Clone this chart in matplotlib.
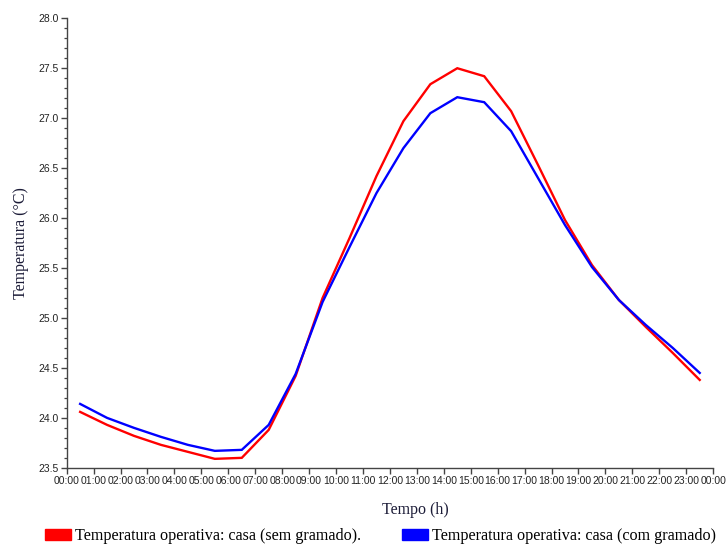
import matplotlib.pyplot as plt
from matplotlib.patches import Patch
from matplotlib.ticker import MultipleLocator, FixedLocator

# Hourly operative temperature, sampled at the half hour (00:30 ... 23:30)
horas = [h + 0.5 for h in range(24)]
sem_gramado = [24.06, 23.93, 23.82, 23.73, 23.66, 23.59, 23.60, 23.88,
               24.42, 25.20, 25.80, 26.42, 26.97, 27.34, 27.50, 27.42,
               27.07, 26.53, 25.98, 25.53, 25.18, 24.91, 24.65, 24.38]
com_gramado = [24.14, 24.00, 23.90, 23.81, 23.73, 23.67, 23.68, 23.93,
               24.44, 25.16, 25.71, 26.25, 26.70, 27.05, 27.21, 27.16,
               26.87, 26.40, 25.93, 25.51, 25.18, 24.93, 24.70, 24.45]
rotulos_x = [f"{h % 24:02d}:00" for h in range(25)]

SERIF = "Liberation Serif"
SANS = "Liberation Sans"
TXT = "#1c1c38"

fig = plt.figure(figsize=(7.27, 5.44), dpi=100)
ax = fig.add_axes([0.0917, 0.14, 0.8893, 0.8264])

ax.plot(horas, sem_gramado, color="#ff0000", lw=1.7, solid_joinstyle="miter")
ax.plot(horas, com_gramado, color="#0000ff", lw=1.7, solid_joinstyle="miter")

ax.set_xlim(0, 24)
ax.set_ylim(23.5, 28.0)
ax.xaxis.set_major_locator(FixedLocator(range(25)))
ax.set_xticklabels(rotulos_x)
ax.yaxis.set_major_locator(MultipleLocator(0.5))
ax.yaxis.set_minor_locator(MultipleLocator(0.1))
ax.yaxis.set_major_formatter(lambda v, p: f"{v:.1f}")

for s in ("top", "right"):
    ax.spines[s].set_visible(False)
for s in ("left", "bottom"):
    ax.spines[s].set_color("#444444")
    ax.spines[s].set_linewidth(1.0)

ax.tick_params(axis="both", which="major", length=4.5, width=1.0,
               color="#444444", labelsize=7.5, labelcolor="#222222", pad=1.5)
ax.tick_params(axis="y", which="minor", length=2.5, width=0.9, color="#444444")
for lab in ax.get_xticklabels() + ax.get_yticklabels():
    lab.set_fontfamily(SANS)

ax.set_xlabel("Tempo (h)", fontsize=11.5, family=SERIF, color=TXT)
ax.xaxis.set_label_coords(0.54, -0.075)
ax.set_ylabel("Temperatura (°C)", fontsize=11.5, family=SERIF, color=TXT)
ax.yaxis.set_label_coords(-0.058, 0.5)

handles = [Patch(color="#ff0000", label="Temperatura operativa: casa (sem gramado)."),
           Patch(color="#0000ff", label="Temperatura operativa: casa (com gramado)")]
fig.legend(handles=handles, loc="center left", bbox_to_anchor=(0.062, 0.0147),
           ncol=2, frameon=False, borderpad=0, borderaxespad=0,
           handlelength=1.62, handleheight=0.62, handletextpad=0.25,
           columnspacing=2.5, prop={"family": SERIF, "size": 11.6})

fig.savefig("out.png", dpi=100)
